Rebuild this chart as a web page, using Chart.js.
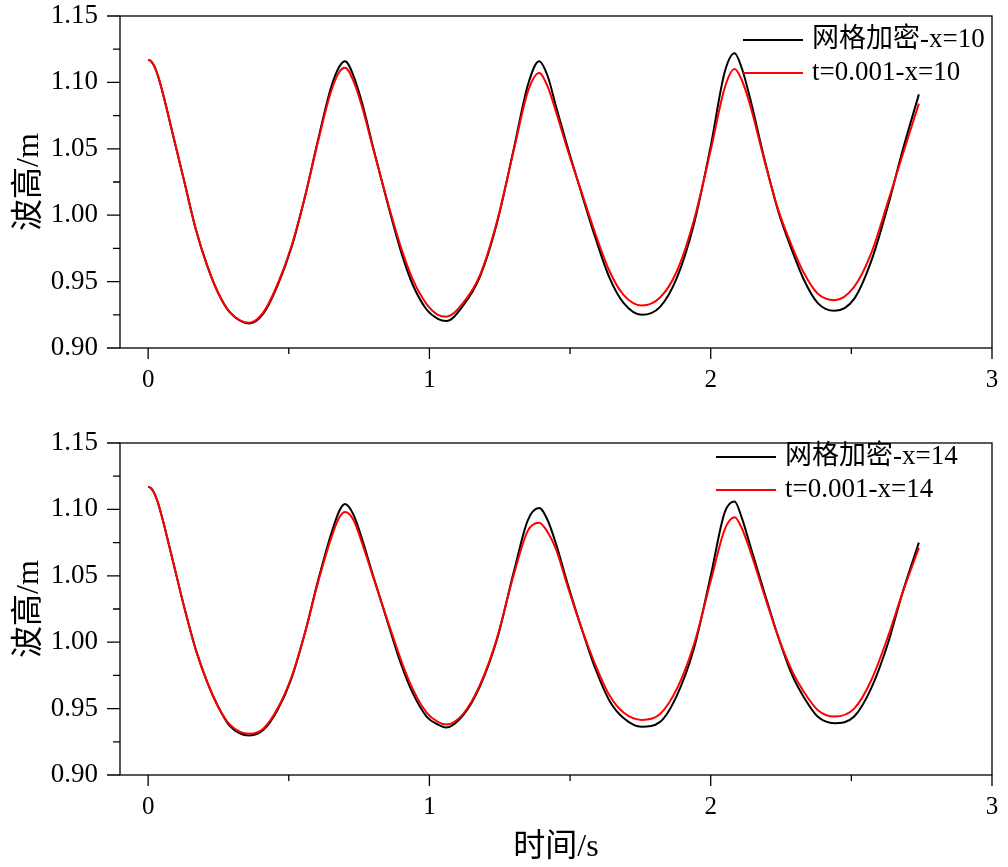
<!DOCTYPE html>
<html>
<head>
<meta charset="utf-8">
<script src="https://cdn.jsdelivr.net/npm/chart.js@4.4.1/dist/chart.umd.min.js"></script>
<style>
    body { margin: 0; background: #fff; }
    #topBox { position: absolute; left: 0; top: 0; width: 1008px; height: 420px; }
    #bottomBox { position: absolute; left: 0; top: 420px; width: 1008px; height: 447px; }
</style>
</head>
<body>
<div id="topBox"><canvas id="chartTop"></canvas></div>
<div id="bottomBox"><canvas id="chartBottom"></canvas></div>
<script>
// time in s, shared by all four curves
const time = [0, 0.01, 0.02, 0.03, 0.04, 0.06, 0.09, 0.13, 0.17, 0.21, 0.25, 0.29, 0.36, 0.41, 0.46, 0.51, 0.56, 0.60,
    0.65, 0.68, 0.70, 0.73, 0.76, 0.80, 0.85, 0.90, 0.94, 0.99, 1.03, 1.06, 1.12, 1.18, 1.24, 1.30,
    1.35, 1.39, 1.42, 1.45, 1.49, 1.54, 1.59, 1.64, 1.69, 1.755, 1.82, 1.88, 1.94, 2.00, 2.05, 2.085,
    2.11, 2.14, 2.19, 2.24, 2.29, 2.33, 2.38, 2.44, 2.51, 2.57, 2.63, 2.68, 2.74];

// wave height in m, x=10
const fineX10 = [1.117, 1.116, 1.113, 1.108, 1.1015, 1.0855, 1.059, 1.024, 0.989, 0.962, 0.941, 0.927, 0.9185, 0.926, 0.947, 0.976, 1.016, 1.053,
    1.096, 1.112, 1.116, 1.105, 1.085, 1.051, 1.010, 0.972, 0.948, 0.929, 0.922, 0.9203, 0.932, 0.954, 0.994, 1.050,
    1.098, 1.116, 1.105, 1.082, 1.052, 1.017, 0.983, 0.953, 0.934, 0.925, 0.931, 0.953, 0.993, 1.052, 1.108, 1.122,
    1.111, 1.088, 1.043, 1.003, 0.973, 0.952, 0.934, 0.928, 0.937, 0.965, 1.007, 1.047, 1.091];
const dtX10 = [1.117, 1.116, 1.113, 1.108, 1.1015, 1.0855, 1.059, 1.024, 0.989, 0.962, 0.941, 0.927, 0.919, 0.927, 0.948, 0.977, 1.016, 1.052,
    1.093, 1.108, 1.111, 1.101, 1.082, 1.050, 1.011, 0.975, 0.952, 0.933, 0.925, 0.9236, 0.934, 0.955, 0.995, 1.049,
    1.093, 1.107, 1.097, 1.078, 1.050, 1.018, 0.986, 0.958, 0.940, 0.932, 0.938, 0.958, 0.996, 1.049, 1.096, 1.110,
    1.102, 1.083, 1.042, 1.004, 0.976, 0.957, 0.941, 0.936, 0.946, 0.971, 1.010, 1.044, 1.084];

// wave height in m, x=14
const fineX14 = [1.117, 1.116, 1.113, 1.108, 1.1015, 1.0855, 1.0595, 1.025, 0.994, 0.970, 0.951, 0.937, 0.9297, 0.934, 0.949, 0.973, 1.009, 1.043,
    1.081, 1.099, 1.104, 1.096, 1.078, 1.050, 1.016, 0.983, 0.962, 0.944, 0.938, 0.9357, 0.945, 0.967, 1.002, 1.053,
    1.092, 1.101, 1.092, 1.074, 1.045, 1.011, 0.980, 0.956, 0.943, 0.9364, 0.940, 0.960, 0.995, 1.050, 1.098, 1.106,
    1.094, 1.073, 1.038, 1.004, 0.975, 0.959, 0.944, 0.939, 0.944, 0.965, 0.999, 1.036, 1.075];
const dtX14 = [1.117, 1.116, 1.113, 1.108, 1.1015, 1.0855, 1.0595, 1.025, 0.994, 0.970, 0.951, 0.938, 0.931, 0.935, 0.950, 0.974, 1.009, 1.042,
    1.078, 1.094, 1.098, 1.092, 1.075, 1.049, 1.017, 0.986, 0.965, 0.947, 0.940, 0.938, 0.946, 0.968, 1.003, 1.051,
    1.084, 1.090, 1.083, 1.070, 1.043, 1.011, 0.983, 0.960, 0.947, 0.9415, 0.946, 0.965, 0.998, 1.046, 1.085, 1.094,
    1.086, 1.069, 1.036, 1.004, 0.978, 0.963, 0.949, 0.944, 0.950, 0.971, 1.004, 1.036, 1.071];

const labelsX10 = ['网格加密-x=10', 't=0.001-x=10'];
const labelsX14 = ['网格加密-x=14', 't=0.001-x=14'];

const xTicks = [0, 1, 2, 3];
const xMinorTicks = [0.5, 1.5, 2.5];
const yTicks = [0.90, 0.95, 1.00, 1.05, 1.10, 1.15];
const yMinorTicks = [0.925, 0.975, 1.025, 1.075, 1.125];

const serif = '"Liberation Serif", "Noto Sans CJK SC", serif';
Chart.defaults.font.family = serif;
Chart.defaults.color = '#000';

/*
    draws the box round the plot and the outward major/minor ticks
*/
const framePlugin = {
    id: 'frame',
    afterDraw(chart) {
        const ctx = chart.ctx;
        const a = chart.chartArea;
        const xs = chart.scales.x, ys = chart.scales.y;
        ctx.save();
        ctx.strokeStyle = '#000';
        ctx.lineWidth = 1.3;
        ctx.strokeRect(a.left, a.top, a.right - a.left, a.bottom - a.top);
        ctx.beginPath();
        yTicks.forEach(v => { let p = ys.getPixelForValue(v); ctx.moveTo(a.left - 13, p); ctx.lineTo(a.left, p); });
        yMinorTicks.forEach(v => { let p = ys.getPixelForValue(v); ctx.moveTo(a.left - 7, p); ctx.lineTo(a.left, p); });
        xTicks.forEach(v => { let p = xs.getPixelForValue(v); ctx.moveTo(p, a.bottom); ctx.lineTo(p, a.bottom + 11); });
        xMinorTicks.forEach(v => { let p = xs.getPixelForValue(v); ctx.moveTo(p, a.bottom); ctx.lineTo(p, a.bottom + 6); });
        ctx.stroke();
        ctx.restore();
    }
};

/*
    legend drawn inside the plot, upper right
*/
const insideLegend = {
    id: 'insideLegend',
    afterDraw(chart, args, opts) {
        const ctx = chart.ctx;
        ctx.save();
        ctx.font = '27px ' + serif;
        ctx.textBaseline = 'middle';
        ctx.fillStyle = '#000';
        opts.order.forEach((di, i) => {
            let ds = chart.data.datasets[di];
            let y = opts.y + i * opts.gap;
            ctx.strokeStyle = ds.borderColor;
            ctx.lineWidth = 2;
            ctx.beginPath();
            ctx.moveTo(opts.x, y);
            ctx.lineTo(opts.x + 60, y);
            ctx.stroke();
            ctx.fillText(ds.label, opts.x + 69, y);
        });
        ctx.restore();
    }
};

function toPoints(vals) {
    return time.map((t, i) => ({ x: t, y: vals[i] }));
}

function BuildWaveChart(id, fine, dt, labels, cfg) {
    return new Chart(document.getElementById(id), {
        type: 'line',
        data: {
            datasets: [
                { label: labels[1], data: toPoints(dt), borderColor: '#ff0000', order: 0 },
                { label: labels[0], data: toPoints(fine), borderColor: '#000000', order: 1 }
            ]
        },
        options: {
            responsive: true,
            maintainAspectRatio: false,
            animation: false,
            elements: {
                point: { radius: 0 },
                line: { borderWidth: 2, cubicInterpolationMode: 'monotone' }
            },
            layout: { padding: { left: 0, right: 16, top: cfg.top, bottom: 0 } },
            plugins: {
                legend: { display: false },
                tooltip: { enabled: false },
                insideLegend: cfg.legend
            },
            scales: {
                x: {
                    type: 'linear',
                    min: -0.1,
                    max: 3,
                    afterBuildTicks: s => { s.ticks = xTicks.map(v => ({ value: v })) },
                    afterFit: s => { s.height = cfg.xHeight; s.paddingLeft = 0; s.paddingRight = 0 },
                    grid: { display: false, drawTicks: true, tickLength: 11 },
                    border: { display: false },
                    ticks: { font: { size: 25 }, padding: 6, maxRotation: 0 },
                    title: {
                        display: cfg.xTitle,
                        text: '时间/s',
                        font: { size: 32, lineHeight: 1 },
                        padding: { top: 0, bottom: 3 }
                    }
                },
                y: {
                    min: 0.90,
                    max: 1.15,
                    afterBuildTicks: s => { s.ticks = yTicks.map(v => ({ value: v })) },
                    afterFit: s => { s.width = 120; s.paddingTop = 0; s.paddingBottom = 0 },
                    grid: { display: false, drawTicks: true, tickLength: 13 },
                    border: { display: false },
                    ticks: { font: { size: 27 }, padding: 9, callback: v => v.toFixed(2) },
                    title: {
                        display: true,
                        text: '波高/m',
                        font: { size: 32, lineHeight: 1 },
                        padding: { top: 14, bottom: 0 }
                    }
                }
            }
        },
        plugins: [framePlugin, insideLegend]
    });
}

BuildWaveChart('chartTop', fineX10, dtX10, labelsX10, {
    top: 16, xHeight: 72, xTitle: false,
    legend: { x: 743, y: 40, gap: 33, order: [1, 0] }
});
BuildWaveChart('chartBottom', fineX14, dtX14, labelsX14, {
    top: 23, xHeight: 92, xTitle: true,
    legend: { x: 716, y: 37, gap: 33, order: [1, 0] }
});
</script>
</body>
</html>
